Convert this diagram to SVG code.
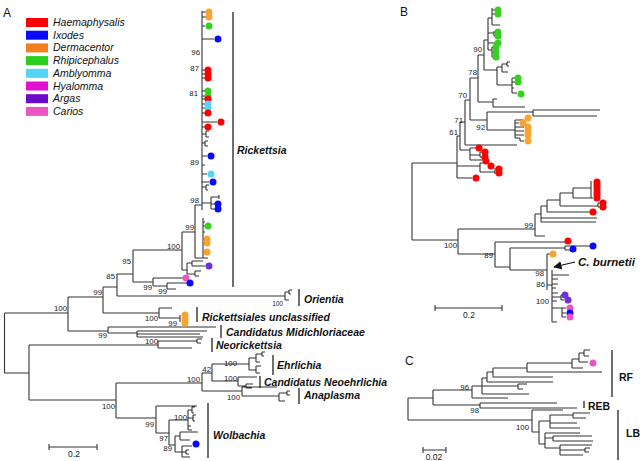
<svg xmlns="http://www.w3.org/2000/svg" width="640" height="461" viewBox="0 0 640 461">
<style>
.t{fill:none;stroke:#333;stroke-width:1.1}
.bar{fill:none;stroke:#222;stroke-width:1.3}
.bs{font-family:"Liberation Sans",Arial,sans-serif;font-size:7.8px;fill:#222;text-anchor:end}
.cl{font-family:"Liberation Sans",Arial,sans-serif;font-size:10.5px;font-weight:bold;font-style:italic;fill:#111}
.cb{font-family:"Liberation Sans",Arial,sans-serif;font-size:10.5px;font-weight:bold;fill:#111}
.lg{font-family:"Liberation Sans",Arial,sans-serif;font-size:10.5px;font-style:italic;fill:#111}
.pl{font-family:"Liberation Sans",Arial,sans-serif;font-size:12px;fill:#111}
.sc{font-family:"Liberation Sans",Arial,sans-serif;font-size:8.5px;fill:#222;text-anchor:middle}
.r{fill:#ff0000}.b{fill:#0a0aff}.o{fill:#f9a430}.g{fill:#36d022}.c{fill:#55d4f5}.h{fill:#e010d0}.p{fill:#7030d8}.k{fill:#ea55c4}
</style>
<defs>
<marker id="ah" viewBox="0 0 10 10" refX="9" refY="5" markerWidth="7" markerHeight="7" orient="auto"><path d="M0 0 L10 5 L0 10 z" fill="#111"/></marker>
</defs>
<rect width="640" height="461" fill="#fff"/>

<g id="panel-labels">
<text class="pl" x="3" y="17">A</text>
<text class="pl" x="400" y="16">B</text>
<text class="pl" x="405" y="365">C</text>
</g>

<g id="legend">
<rect x="26" y="18" width="22" height="9" fill="#ff0000"/><text class="lg" x="53" y="26">Haemaphysalis</text>
<rect x="26" y="30.7" width="22" height="9" fill="#0a0aff"/><text class="lg" x="53" y="38.7">Ixodes</text>
<rect x="26" y="43.4" width="22" height="9" fill="#f47f20"/><text class="lg" x="53" y="51.4">Dermacentor</text>
<rect x="26" y="56.1" width="22" height="9" fill="#2dcf1f"/><text class="lg" x="53" y="64.1">Rhipicephalus</text>
<rect x="26" y="68.8" width="22" height="9" fill="#55d4f5"/><text class="lg" x="53" y="76.8">Amblyomma</text>
<rect x="26" y="81.5" width="22" height="9" fill="#e010d0"/><text class="lg" x="53" y="89.5">Hyalomma</text>
<rect x="26" y="94.2" width="22" height="9" fill="#6a0cc8"/><text class="lg" x="53" y="102.2">Argas</text>
<rect x="26" y="106.9" width="22" height="9" fill="#ea55c4"/><text class="lg" x="53" y="114.9">Carios</text>
</g>

<g id="connectors">
<!-- Panel A -->
<path class="t" d="M4.5 313V373M4.5 313H68M4.5 373H29
M68 297V331M68 297H103M68 331H108
M103 287V313M103 287H117M103 313H159
M117 274V296M117 274H133M117 296H285
M133 250V282M133 250H182M133 282H153
M182 232V270M182 232H195M182 270H187
M195 205V258M195 205H202M195 258H208
M202 11V210
M202 12H206M202 17H206M202 26H205M202 39H214M202 70H205M202 74H205M202 78H205M202 91H205M202 96H205M202 99H205M202 104H205M202 108H205M202 113H205M202 122H217M202 127H205
M202 134H206M206 131V137M206 131H209M206 137H209M202 143H205M205 141V146M205 141H208M205 146H208
M202 156H207M202 165H205M202 174H207M202 182H209M202 187H206M206 185V190M206 185H209M206 190H208
M202 203H211M211 197V209M211 197H219M219 195V199M211 204H215M211 209H215
M203 218V258M203 222H205M203 226H205M203 232H205M203 239H204M203 243H204M203 252H204
M187 263V274M187 263H192M192 261V266M192 261H203M192 266H205M187 274H195M195 271V276M195 271H201M195 276H199
M153 278V286M153 278H183M153 286H167M167 283V289M167 283H187M167 289H176
M285 292V300M285 292H289M289 290V294M289 290H292M289 294H291M285 300H289
M159 308V318M159 308H172M159 318H180M180 315V322
M108 327V333M108 327H216M108 333H137M137 331V337M137 331H207M137 337H203M137 334H200
M29 345V400M29 345H158M29 400H116
M158 341V348M158 341H197M197 339V343M197 339H202M197 343H201M158 348H192
M116 383V418M116 383H202M116 418H156
M202 373V391M202 373H212M202 391H242
M212 364V381M212 364H249M212 381H238
M249 358V370M249 358H256M256 354V362M256 354H262M262 352V356M262 352H265M262 356H264M256 362H260M249 370H256M256 366V373M256 366H261M256 373H260
M238 377V386M238 377H257M238 386H246M246 384V388M246 384H253M246 388H252
M242 387V396M242 387H277M242 396H279M279 393V401M279 393H287M287 391V395M287 391H290M287 395H290M279 401H285
M156 406V433M156 406H197M156 433H169
M169 420V445M169 420H188M169 445H175
M188 410V430M188 410H192M192 407V413M192 407H195M192 413H194M188 418H193M193 415V421M193 415H196M193 421H195M188 426H191M188 430H192
M175 436V452M175 436H180M180 432V440M180 432H198M180 440H190M175 452H182M182 446V457M182 446H192M182 452H186M186 450V454M186 450H189M186 454H189M182 457H190"/>
<!-- Panel B -->
<path class="t" d="M412 163V240M412 163H457M412 240H458
M457 136V178M457 136H460M457 166H480M457 178H472
M460 122V150M460 122H465M460 150H470
M470 148V160M470 148H476M470 155H480M480 152V157M480 152H482M480 157H482M470 160H483
M480 163V172M480 163H487M480 172H495M495 168V174
M465 100V145M465 100H470M465 145H517
M470 78V120M470 78H478M470 120H487
M478 55V102M478 55H484M478 102H493M493 99V107M493 99H497M493 107H525
M484 40V70M484 40H488M484 70H497
M488 18V50M488 18H492M492 8V25M492 10H495M492 14H495M492 25H500M488 33H494M494 31V36M494 32H495M494 36H495M488 43H495M488 50H492M492 47V57M492 47H493M492 52H493M492 57H493
M497 67V85M497 67H502M502 64V72M502 64H507M507 62V66M507 62H510M507 66H509M502 72H508M497 85H512M512 78V93M512 78H515M512 82H515M512 88H514M512 93H517
M487 112V130M487 112H533M533 110V116M533 110H600M533 116H597M487 130H515
M515 120V138M515 120H524M515 123H519M515 127H524M515 131H524M515 135H524M515 138H520M520 138V141M520 141H524
M458 229V254M458 229H535M458 254H495
M535 214V236M535 214H541M535 236H545
M541 206V222M541 206H547M541 218H597M541 222H596
M547 200V212M547 200H560M547 212H590
M560 193V206M560 193H573M560 206H598M598 203V207M598 203H600M598 207H600
M573 188V198M573 188H591M573 198H593M591 181V198
M495 242V267M495 242H565M495 267H510
M510 248V270M510 248H565M510 270H547
M565 246V250M565 246H590M565 250H570
M547 254V290M547 254H550M547 285H552
M552 270V322M552 275H569M552 279H558M552 284H558M552 288H556M552 293H558M552 297H561M561 295V300M561 295H562M561 300H564M552 301H557M552 308H562M562 308V317M562 308H566M562 313H566M562 317H566M552 322H557"/>
<!-- Panel C -->
<path class="t" d="M408 398V420M408 398H433M408 420H532
M433 390V405M433 390H472M433 405H480
M472 386V398M472 386H482M472 398H508
M482 378V394M482 378H487M482 386H518M518 384V389M518 384H527M518 389H523M482 394H529
M487 372V382M487 372H493M487 382H553
M493 368V377M493 368H527M493 377H553
M527 363V372M527 363H572M527 372H602
M572 359V368M572 359H579M572 368H583
M579 353V362M579 353H584M584 350V356M584 350H590M584 356H589M579 362H588
M480 403V408M480 403H557M480 408H577
M532 410V432M532 410H563M532 432H539
M539 421V444M539 421H550M539 444H545
M550 415V428M550 415H573M573 413V418M573 413H590M573 418H586M550 423H577M550 428H580
M545 433V448M545 433H580M545 438H553M553 436V441M553 436H592M553 441H593M545 448H560M560 445V455M560 445H592M560 450H585M585 448V452M585 448H590M585 452H589M560 455H583"/>
<!-- scale bars -->
<path class="t" d="M49 447H97M49 444V450M97 444V450M435 308H502M435 305V311M502 305V311M423 450H446M423 447V453M446 447V453"/>
<!-- arrow -->
<path d="M575 262L554 267" stroke="#111" stroke-width="1.2" fill="none" marker-end="url(#ah)"/>
</g>

<g id="dots-A">
<circle class="o" cx="209" cy="12" r="3.5"/><circle class="o" cx="209" cy="17" r="3.5"/>
<circle class="g" cx="209" cy="26" r="3.5"/>
<circle class="b" cx="218" cy="39" r="3.5"/>
<circle class="r" cx="208" cy="70" r="3.5"/><circle class="r" cx="208" cy="74" r="3.5"/><circle class="r" cx="208" cy="78" r="3.5"/>
<circle class="g" cx="208" cy="91" r="3.5"/><circle class="g" cx="208" cy="96" r="3.5"/>
<circle class="r" cx="208" cy="99" r="3.5"/>
<circle class="c" cx="208" cy="104" r="3.5"/><circle class="c" cx="208" cy="108" r="3.5"/>
<circle class="r" cx="208" cy="113" r="3.5"/>
<circle class="r" cx="221" cy="122" r="3.5"/>
<circle class="r" cx="208" cy="127" r="3.5"/>
<circle class="b" cx="211" cy="156" r="3.5"/>
<circle class="c" cx="211" cy="174" r="3.5"/>
<circle class="b" cx="213" cy="182" r="3.5"/>
<circle class="b" cx="218" cy="204" r="3.5"/><circle class="b" cx="218" cy="209" r="3.5"/>
<circle class="g" cx="208" cy="226" r="3.5"/>
<circle class="o" cx="207" cy="239" r="3.5"/><circle class="o" cx="207" cy="243" r="3.5"/><circle class="o" cx="207" cy="252" r="3.5"/>
<circle class="p" cx="209" cy="266" r="3.5"/>
<circle class="k" cx="186" cy="278" r="3.5"/>
<circle class="b" cx="190" cy="283" r="3.5"/>
<circle class="o" cx="185" cy="315" r="3.5"/><circle class="o" cx="185" cy="319" r="3.5"/><circle class="o" cx="185" cy="323" r="3.5"/>
<circle class="b" cx="196" cy="444" r="3.5"/>
</g>

<g id="dots-B">
<circle class="g" cx="498" cy="10" r="3.5"/><circle class="g" cx="498" cy="14" r="3.5"/>
<circle class="g" cx="498" cy="32" r="3.5"/><circle class="g" cx="498" cy="36" r="3.5"/>
<circle class="g" cx="498" cy="43" r="3.5"/><circle class="g" cx="496" cy="47" r="3.5"/><circle class="g" cx="496" cy="52" r="3.5"/><circle class="g" cx="496" cy="57" r="3.5"/>
<circle class="g" cx="518" cy="78" r="3.5"/><circle class="g" cx="518" cy="82" r="3.5"/><circle class="g" cx="521" cy="94" r="3.5"/>
<circle class="o" cx="528" cy="118" r="3.5"/><circle class="o" cx="523" cy="123" r="3.5"/><circle class="o" cx="528" cy="127" r="3.5"/><circle class="o" cx="528" cy="131" r="3.5"/><circle class="o" cx="528" cy="135" r="3.5"/><circle class="o" cx="528" cy="141" r="3.5"/>
<circle class="r" cx="479" cy="148" r="3.5"/><circle class="r" cx="485" cy="152" r="3.5"/><circle class="r" cx="485" cy="157" r="3.5"/><circle class="r" cx="486" cy="161" r="3.5"/><circle class="r" cx="491" cy="166" r="3.5"/><circle class="r" cx="499" cy="169" r="3.5"/><circle class="r" cx="499" cy="173" r="3.5"/><circle class="r" cx="476" cy="178" r="3.5"/>
<circle class="r" cx="597" cy="182" r="3.5"/><circle class="r" cx="597" cy="185" r="3.5"/><circle class="r" cx="597" cy="188" r="3.5"/><circle class="r" cx="597" cy="192" r="3.5"/><circle class="r" cx="597" cy="195" r="3.5"/><circle class="r" cx="597" cy="198" r="3.5"/>
<circle class="r" cx="603" cy="203" r="3.5"/><circle class="r" cx="603" cy="207" r="3.5"/><circle class="r" cx="593" cy="212" r="3.5"/>
<circle class="r" cx="568" cy="241" r="3.5"/><circle class="b" cx="593" cy="246" r="3.5"/><circle class="b" cx="573" cy="249" r="3.5"/>
<circle class="o" cx="553" cy="254" r="3.5"/>
<circle class="p" cx="565" cy="295" r="3.5"/><circle class="p" cx="568" cy="300" r="3.5"/>
<circle class="k" cx="570" cy="308" r="3.5"/><circle class="b" cx="570" cy="313" r="3.5"/><circle class="k" cx="570" cy="317" r="3.5"/>
</g>

<g id="dots-C">
<circle class="k" cx="593" cy="363" r="3.5"/>
</g>

<g id="clade-labels">
<path class="bar" d="M233 12V287M299 289V306M197 307V322M221 325V338M212 338V352M273 355V375M260 376V388M299 388V404M208 403V458M612 350V397M584 401V408M618 410V460"/>
<text class="cl" x="237" y="154">Rickettsia</text>
<text class="cl" x="304" y="303">Orientia</text>
<text class="cl" x="202" y="321">Rickettsiales unclassified</text>
<text class="cl" x="226" y="336">Candidatus Midichloriaceae</text>
<text class="cl" x="216" y="349">Neorickettsia</text>
<text class="cl" x="277" y="369">Ehrlichia</text>
<text class="cl" x="264" y="386">Candidatus Neoehrlichia</text>
<text class="cl" x="304" y="399">Anaplasma</text>
<text class="cl" x="213" y="439">Wolbachia</text>
<text class="cl" x="578" y="266" style="font-size:11.5px">C. burnetii</text>
<text class="cb" x="619" y="381">RF</text>
<text class="cb" x="588" y="410">REB</text>
<text class="cb" x="626" y="437">LB</text>
</g>

<g id="bootstrap">
<text class="bs" x="200" y="55">96</text>
<text class="bs" x="199" y="71">87</text>
<text class="bs" x="198" y="96">81</text>
<text class="bs" x="199" y="165">89</text>
<text class="bs" x="199" y="203">98</text>
<text class="bs" x="194" y="230">99</text>
<text class="bs" x="180" y="249">100</text>
<text class="bs" x="131" y="264">95</text>
<text class="bs" x="115" y="279">85</text>
<text class="bs" x="102" y="295">99</text>
<text class="bs" x="67" y="311">100</text>
<text class="bs" x="152" y="290">99</text>
<text class="bs" x="167" y="294">99</text>
<text class="bs" x="283" y="306" style="font-size:6.5px">100</text>
<text class="bs" x="158" y="321">100</text>
<text class="bs" x="177" y="326">99</text>
<text class="bs" x="107" y="338">99</text>
<text class="bs" x="158" y="344">100</text>
<text class="bs" x="200" y="382">100</text>
<text class="bs" x="211" y="372">42</text>
<text class="bs" x="237" y="366">100</text>
<text class="bs" x="237" y="381">100</text>
<text class="bs" x="240" y="400">100</text>
<text class="bs" x="115" y="409">100</text>
<text class="bs" x="154" y="427">99</text>
<text class="bs" x="187" y="420">100</text>
<text class="bs" x="168" y="441">97</text>
<text class="bs" x="172" y="451">89</text>
<text class="bs" x="482" y="52">90</text>
<text class="bs" x="477" y="75">78</text>
<text class="bs" x="467" y="98">70</text>
<text class="bs" x="463" y="123">71</text>
<text class="bs" x="458" y="135">61</text>
<text class="bs" x="485" y="130">92</text>
<text class="bs" x="533" y="228">99</text>
<text class="bs" x="457" y="248">100</text>
<text class="bs" x="493" y="258">89</text>
<text class="bs" x="544" y="276">98</text>
<text class="bs" x="545" y="287">86</text>
<text class="bs" x="549" y="304">100</text>
<text class="bs" x="469" y="390">96</text>
<text class="bs" x="479" y="413">98</text>
<text class="bs" x="529" y="430">100</text>
</g>

<g id="scales">
<text class="sc" x="74" y="457">0.2</text>
<text class="sc" x="469" y="318">0.2</text>
<text class="sc" x="434" y="460">0.02</text>
</g>
</svg>
